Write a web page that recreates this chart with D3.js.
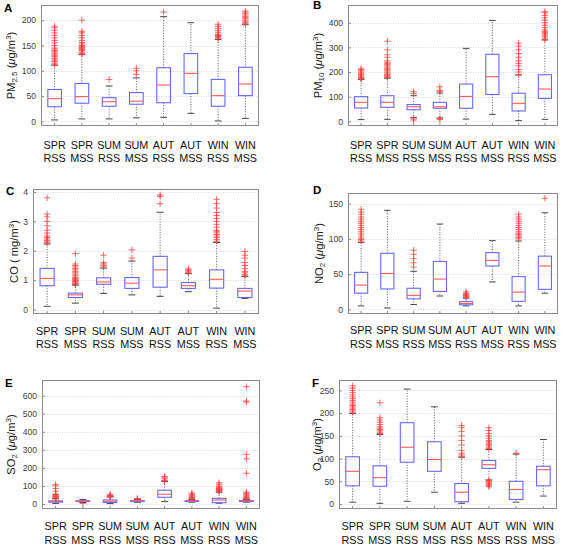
<!DOCTYPE html>
<html><head><meta charset="utf-8">
<script src="https://cdn.jsdelivr.net/npm/d3@7"></script>
<style>
body{margin:0;background:#fff;}
svg{display:block;font-family:"Liberation Sans",Arial,sans-serif;}
</style></head>
<body>
<svg id="c" width="562" height="546"></svg>
<script>
// ---------- DATA ----------
const seasons = ["SPR","SPR","SUM","SUM","AUT","AUT","WIN","WIN"];
const sites   = ["RSS","MSS","RSS","MSS","RSS","MSS","RSS","MSS"];
const categories = seasons.map((s,i)=>s+" "+sites[i]);

// box stats: [lower whisker, Q1, median, Q3, upper whisker]
const pm25Box = [[3,29,45,63,111],[5,36,49,75,132],[5,30,39,47,70],[7,34,40,57,86],[8,37,72,106,207],[16,55,95,134,195],[1,30,51,83,162],[6,51,74,107,191]];
const pm25Out = [
  [112,115,118,120,123,125,128,130,133,135,138,140,143,145,150,155,160,165,170,175,180,185,188],
  [133,135,137,140,142,144,146,148,150,153,156,160,165,170,175,178,200],
  [83],
  [93,100,105],
  [216],
  [],
  [163,166,168,169,170,172,176,180,184,188,192],
  [193,195,197,200,203,205,207,210,213,216,218]
];
const pm10Box = [[7,54,77,100,170],[8,57,77,104,175],[16,47,59,68,104],[14,53,59,77,115],[9,53,101,151,296],[28,109,181,272,409],[3,42,73,114,188],[8,93,131,189,330]];
const pm10Out = [
  [172,175,178,180,185,190,195,200,205,210,213],
  [178,182,186,190,195,200,205,210,215,220,225,230,235,240,245,260,270,290,325],
  [5,10,113,120],
  [8,10,120,125,140],
  [],
  [],
  [190,200,210,225,235,245,260,275,290,305,318],
  [332,338,345,350,355,360,365,370,380,390,400,410,420,430,440,445]
];
const coBox = [[0.11,0.81,1.06,1.40,2.23],[0.22,0.41,0.50,0.56,0.83],[0.55,0.86,0.94,1.08,1.41],[0.50,0.72,0.90,1.09,1.65],[0.45,0.76,1.35,1.81,3.31],[0.61,0.72,0.81,0.92,1.22],[0.05,0.73,1.03,1.35,2.28],[0.38,0.41,0.63,0.72,1.12]];
const coOut = [
  [2.27,2.3,2.35,2.4,2.45,2.5,2.6,2.7,2.85,3.0,3.15,3.25,3.8],
  [0.85,0.88,0.9,0.93,0.95,0.98,1.0,1.03,1.05,1.08,1.1,1.15,1.2,1.25,1.3,1.35,1.4,1.45,1.5,1.55,1.9],
  [1.45,1.5,1.55,1.6,1.85],
  [1.75,2.03],
  [3.6,3.85,3.9],
  [1.25,1.28,1.32,1.35,1.38],
  [2.32,2.38,2.45,2.5,2.55,2.6,2.65,2.7,2.8,2.9,3.0,3.1,3.2,3.3,3.45,3.6,3.75],
  [1.15,1.2,1.25,1.3,1.4,1.5,1.6,1.75,1.85,1.98]
];
const no2Box = [[5,23,34.5,52.5,95],[2,29,51,79.5,140.5],[7,15,20,30,54],[19,25.5,43,68,121],[5,6.5,8.5,11,16],[39,61.5,69.5,80.5,97.5],[5,11.5,24.5,46.5,97],[23,28.5,61.5,75.5,137]];
const no2Out = [
  [97,99,101,104,107,110,113,116,119,122,125,128,131,135,138,142],
  [],
  [60,66,72,78,84],
  [],
  [17,18,19,20,21,22,23,25],
  [],
  [100,102,104,106,108,110,113,116,119,122,125,128,131,135],
  [157.5]
];
const so2Box = [[3,10,13,17,28],[8,13,15,18,25],[2,8,15,22,38],[9,13,15,18,24],[13,37,54,76,125],[10,14,16,19,25],[4,7,22,31,65],[10,13,16,19,25]];
const so2Out = [
  [30,33,36,39,42,45,48,52,55,70,85,100,108],
  [3],
  [40,42,45,48,52],
  [26,28,30],
  [128,132,140,148,152],
  [28,32,36,40,45,50,55,60],
  [68,72,75,78,80,83,86,90,95,100,110,118],
  [28,32,36,40,45,50,55,60,65,170,250,275,565,570,650]
];
const o3Box = [[4,40,72,104,199],[1.5,39,58,84,153],[6,92,125,179,253],[26,72,98,137,214],[1.5,5,26,45,103],[53,78.5,86.5,96,120],[4,10,32,50,110],[17.5,40,75.5,83,142]];
const o3Out = [
  [202,205,208,211,214,217,220,224,228,232,236,240,245,250,255,260],
  [155,158,161,164,167,170,175,180,185,190,223],
  [],
  [],
  [105,108,112,118,130,140,150,160,168,173],
  [38,40,42,44,46,48,50,52,122,125,128,131,134,137,140,145,150,155,162,168],
  [112],
  []
];
const pm25Ticks = [0,50,100,150,200];
const pm10Ticks = [0,100,200,300,400];
const coTicks   = [0,1,2,3,4];
const no2Ticks  = [0,50,100,150];
const so2Ticks  = [0,100,200,300,400,500,600];
const o3Ticks   = [0,50,100,150,200,250];

// ---------- LAYOUT ----------
const panels = [
  {letter:"A", box:pm25Box, out:pm25Out, ticks:pm25Ticks, dom:[-9,230],  L:41, R:259, T:5,   B:126, lab:[148.7,161.7], lx:[4,12], ylx:11, label:[["PM",0],["2.5",-1],[" (",0],["\u03bc",0,true],["g/m",0],["3",1],[")",0]]},
  {letter:"B", box:pm10Box, out:pm10Out, ticks:pm10Ticks, dom:[-19,472], L:348,R:558, T:5,   B:126, lab:[148.7,161.7], lx:[313,9],  ylx:318, label:[["PM",0],["10",-1],[" (",0],["\u03bc",0,true],["g/m",0],["3",1],[")",0]]},
  {letter:"C", box:coBox,   out:coOut,   ticks:coTicks,   dom:[-0.15,4.1],L:33, R:259, T:189, B:314, lab:[335,348.3],  lx:[6,195],  ylx:14, label:[["CO ( mg/m",0],["3",1],[")",0]]},
  {letter:"D", box:no2Box,  out:no2Out,  ticks:no2Ticks,  dom:[-6.5,165],L:348,R:558, T:193, B:314, lab:[333.5,347.5],lx:[313,194],ylx:319, label:[["NO",0],["2",-1],[" (",0],["\u03bc",0,true],["g/m",0],["3",1],[")",0]]},
  {letter:"E", box:so2Box,  out:so2Out,  ticks:so2Ticks,  dom:[-28,687], L:42, R:260, T:380, B:509, lab:[530,543.5],  lx:[5,387],  ylx:11, label:[["SO",0],["2",-1],[" (",0],["\u03bc",0,true],["g/m",0],["3",1],[")",0]]},
  {letter:"F", box:o3Box,   out:o3Out,   ticks:o3Ticks,   dom:[-11,273], L:339,R:557, T:380, B:509, lab:[530,543.5],  lx:[312,387],ylx:317, label:[["O",0],["3",-1],[" (",0],["\u03bc",0,true],["g/m",0],["3",1],[")",0]]}
];

const svg = d3.select("#c");
const boxColor = "#6868ff", medColor = "#ff5a5a", outColor = "#ff3c3c";

panels.forEach(p=>{
  const g = svg.append("g");
  const x = d3.scaleBand().domain(categories).range([p.L,p.R]).paddingInner(0).paddingOuter(0);
  const y = d3.scaleLinear().domain(p.dom).range([p.B,p.T]);
  const bw = x.bandwidth()*0.5;
  const cw = bw*0.5;

  // grid
  g.append("g").selectAll("line").data(p.ticks).join("line")
    .attr("x1",p.L).attr("x2",p.R).attr("y1",d=>Math.round(y(d))+0.5).attr("y2",d=>Math.round(y(d))+0.5)
    .attr("stroke","#cfcfcf").attr("stroke-width",0.8).attr("stroke-dasharray","1,1.5");

  // y axis
  const ya = g.append("g").attr("transform",`translate(${p.L},0)`)
    .call(d3.axisLeft(y).tickValues(p.ticks).tickSizeInner(-3).tickSizeOuter(0).tickPadding(5).tickFormat(d3.format("d")));
  ya.select(".domain").remove();
  ya.selectAll(".tick line").attr("stroke","#8a8a8a");
  ya.selectAll(".tick text").attr("fill","#404040").style("font-size","8.6px").style("font-family","Liberation Sans, Arial, sans-serif");

  // x axis ticks
  const xa = g.append("g").attr("transform",`translate(0,${p.B})`)
    .call(d3.axisBottom(x).tickSizeInner(-3).tickSizeOuter(0).tickFormat(""));
  xa.select(".domain").remove();
  xa.selectAll(".tick line").attr("stroke","#8a8a8a");

  // frame
  g.append("rect").attr("x",p.L+0.5).attr("y",p.T+0.5).attr("width",p.R-p.L-1).attr("height",p.B-p.T-1)
    .attr("fill","none").attr("stroke","#8a8a8a").attr("stroke-width",1);

  // x labels
  const xl = g.append("g").style("font-size","10.8px").attr("fill","#111");
  categories.forEach((c,i)=>{
    const cx = x(c)+x.bandwidth()/2;
    xl.append("text").attr("x",cx).attr("y",p.lab[0]).attr("text-anchor","middle").text(seasons[i]);
    xl.append("text").attr("x",cx).attr("y",p.lab[1]).attr("text-anchor","middle").text(sites[i]);
  });

  // boxes
  const bg = g.append("g");
  p.box.forEach((s,i)=>{
    const cx = x(categories[i])+x.bandwidth()/2;
    const [lo,q1,med,q3,hi] = s;
    // whiskers
    bg.append("line").attr("x1",cx).attr("x2",cx).attr("y1",y(q3)).attr("y2",y(hi))
      .attr("stroke","#333").attr("stroke-width",0.8).attr("stroke-dasharray","1,1.6");
    bg.append("line").attr("x1",cx).attr("x2",cx).attr("y1",y(q1)).attr("y2",y(lo))
      .attr("stroke","#333").attr("stroke-width",0.8).attr("stroke-dasharray","1,1.6");
    [lo,hi].forEach(v=>bg.append("line").attr("x1",cx-cw/2).attr("x2",cx+cw/2).attr("y1",y(v)).attr("y2",y(v))
      .attr("stroke","#333").attr("stroke-width",0.9));
    // outliers
    p.out[i].forEach(v=>{
      const yy = y(v), h = 3.2;
      bg.append("path").attr("d",`M${cx-h},${yy}H${cx+h}M${cx},${yy-h}V${yy+h}`)
        .attr("stroke",outColor).attr("stroke-width",0.9).attr("fill","none").attr("stroke-opacity",0.85);
    });
    // box
    bg.append("rect").attr("x",cx-bw/2).attr("y",y(q3)).attr("width",bw).attr("height",Math.max(0.5,y(q1)-y(q3)))
      .attr("fill","none").attr("stroke",boxColor).attr("stroke-width",1.1);
    bg.append("line").attr("x1",cx-bw/2).attr("x2",cx+bw/2).attr("y1",y(med)).attr("y2",y(med))
      .attr("stroke",medColor).attr("stroke-width",1.1);
  });

  // panel letter
  g.append("text").attr("x",p.lx[0]).attr("y",p.lx[1]).style("font-size","11.5px").style("font-weight","bold").attr("fill","#000").text(p.letter);

  // y label
  const cy = (p.T+p.B)/2;
  const t = g.append("text").attr("transform",`translate(${p.ylx},${cy}) rotate(-90)`).attr("text-anchor","middle")
    .style("font-size","11.2px").attr("fill","#222").attr("dy","0.35em");
  p.label.forEach(([txt,sh,it])=>{
    const ts = t.append("tspan").text(txt);
    if(sh===-1) ts.attr("baseline-shift","-25%").style("font-size","8px");
    if(sh===1) ts.attr("baseline-shift","45%").style("font-size","8px");
    if(it) ts.style("font-style","italic");
  });
});
</script>
</body></html>
